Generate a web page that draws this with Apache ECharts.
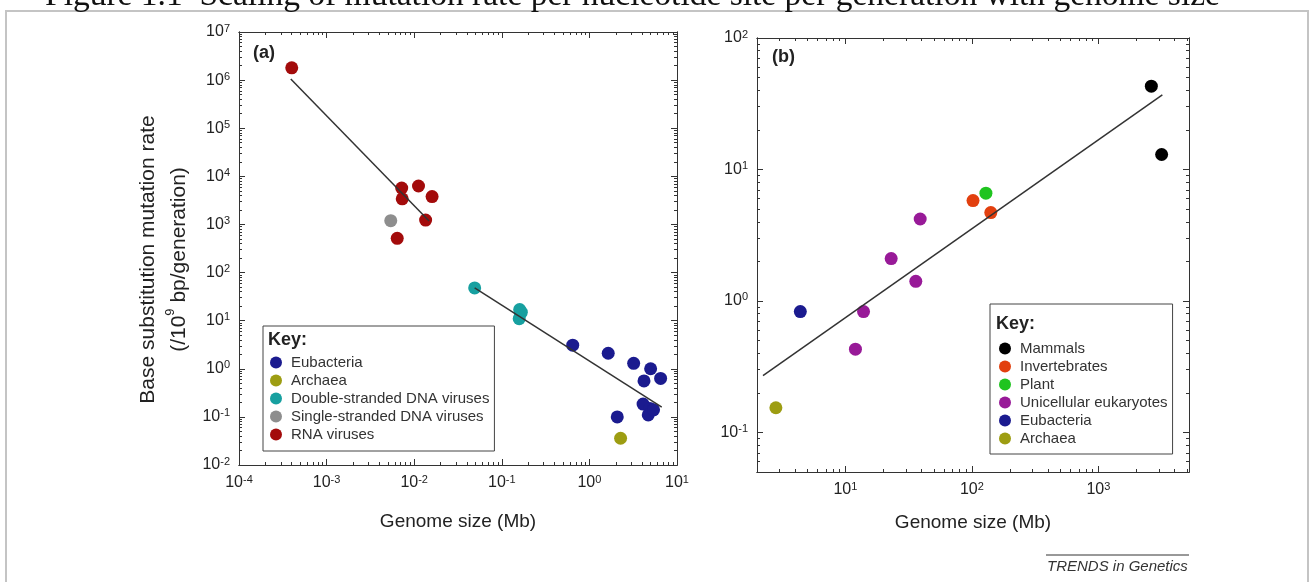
<!DOCTYPE html>
<html>
<head>
<meta charset="utf-8">
<script src="https://cdn.jsdelivr.net/npm/echarts@6/dist/echarts.min.js"></script>
<style>
html, body { margin: 0; padding: 0; background: #fff; }
#chart { width: 1316px; height: 582px; }
</style>
</head>
<body>
<div id="chart"></div>
<script>
// panel (a): genome size (Mb) -> base substitution rate
var eubacteriaA = [[0.645, 3.1], [1.64, 2.1], [3.2, 1.3], [5.0, 1.0], [4.2, 0.56], [6.5, 0.63],
                   [4.1, 0.185], [4.9, 0.15], [4.7, 0.11], [5.4, 0.14], [2.08, 0.10]];
var archaeaA = [[2.27, 0.036]];
var dsDnaViruses = [[0.049, 48], [0.16, 17], [0.163, 14], [0.158, 11], [0.167, 15]];
var ssDnaViruses = [[0.0054, 1200]];
var rnaViruses = [[4.0e-4, 1.8e6], [0.0072, 5700], [0.0073, 3400], [0.0112, 6300],
                  [0.016, 3800], [0.0135, 1230], [0.0064, 515]];
var fitA1 = [[3.9e-4, 1.05e6], [0.0148, 1175]];
var fitA2 = [[0.049, 48], [6.7, 0.16]];

// panel (b)
var mammals = [[2620, 43], [3160, 13]];
var invertebrates = [[102, 5.8], [141, 4.7]];
var plant = [[129, 6.6]];
var unicellular = [[39, 4.2], [23, 2.1], [36, 1.41], [13.9, 0.83], [12, 0.43]];
var eubacteriaB = [[4.4, 0.83]];
var archaeaB = [[2.82, 0.154]];
var fitB = [[2.23, 0.27], [3200, 37]];

// tick labels
var ticksAX = [1e-4, 1e-3, 1e-2, 1e-1, 1, 10];
var ticksAY = [1e-2, 1e-1, 1, 10, 100, 1e3, 1e4, 1e5, 1e6, 1e7];
var ticksBX = [10, 100, 1000];
var ticksBY = [0.1, 1, 10, 100];

var FONT = 'Liberation Sans, Arial, sans-serif';
var colors = {
    eub: '#1b1b8f', arc: '#9d9d12', ds: '#17a0a0', ss: '#8e8e8e', rna: '#a30b0b',
    mam: '#000000', inv: '#e2400f', pla: '#1fc41f', uni: '#981a98'
};

function minors(e0, e1) {
    var out = [];
    for (var e = e0; e < e1; e++)
        for (var k = 2; k < 10; k++) out.push(+(k * Math.pow(10, e)).toPrecision(3));
    return out;
}

function pow10(v) {
    var n = Math.round(Math.log10(v));
    return '{b|10}{s|' + n + '}';
}

var labelRich = {
    b: { fontSize: 16, fontFamily: FONT, color: '#222', lineHeight: 18 },
    s: { fontSize: 11, fontFamily: FONT, color: '#222', lineHeight: 11, verticalAlign: 'top' }
};

function makeAxis(grid, pos, min, max, ticks, len, label) {
    return {
        type: 'log', logBase: 10, gridIndex: grid, position: pos, min: min, max: max,
        axisLine: { show: true, onZero: false, lineStyle: { color: '#333', width: 1 } },
        axisTick: { show: true, inside: true, length: len, customValues: ticks,
                    lineStyle: { color: '#333', width: 1 } },
        axisLabel: label ? { show: true, customValues: ticks, formatter: pow10, rich: labelRich,
                             margin: 9 } : { show: false },
        splitLine: { show: false },
        minorTick: { show: false }
    };
}

var myChart = echarts.init(document.getElementById('chart'));

var xA = makeAxis(0, 'bottom', 1e-4, 10, ticksAX, 6, true);
xA.name = 'Genome size (Mb)';
xA.nameLocation = 'middle';
xA.nameGap = 47;
xA.nameTextStyle = { fontSize: 19, fontFamily: FONT, color: '#222' };

var xB = makeAxis(1, 'bottom', 2, 5200, ticksBX, 6, true);
xB.name = 'Genome size (Mb)';
xB.nameLocation = 'middle';
xB.nameGap = 41;
xB.nameTextStyle = { fontSize: 19, fontFamily: FONT, color: '#222' };

var yA = makeAxis(0, 'left', 1e-2, 1e7, ticksAY, 6, true);
yA.name = '{n|Base substitution mutation rate}\n{n|(/10}{p|9}{n| bp/generation)}';
yA.nameLocation = 'middle';
yA.nameGap = 44;
yA.nameTextStyle = {
    fontFamily: FONT, color: '#222', align: 'center', padding: [0, 22, 0, 0],
    rich: {
        n: { fontSize: 21, fontFamily: FONT, color: '#222', lineHeight: 31 },
        p: { fontSize: 13, fontFamily: FONT, color: '#222', lineHeight: 20, verticalAlign: 'top' }
    }
};

var yB = makeAxis(1, 'left', 0.05, 100, ticksBY, 6, true);

var legendBase = {
    orient: 'vertical', selectedMode: false, itemWidth: 20, itemHeight: 12, itemGap: 3,
    icon: 'circle', borderColor: '#444', borderWidth: 1, borderRadius: 0,
    backgroundColor: '#fff', textStyle: { fontSize: 15, fontFamily: FONT, color: '#333' }
};

option = {
    backgroundColor: '#fff',
    animation: false,
    grid: [
        { left: 239, top: 32, width: 438, height: 433 },
        { left: 757, top: 38, width: 432, height: 434 }
    ],
    xAxis: [
        xA,
        makeAxis(0, 'bottom', 1e-4, 10, minors(-4, 1), 3, false),
        makeAxis(0, 'top', 1e-4, 10, ticksAX, 6, false),
        makeAxis(0, 'top', 1e-4, 10, minors(-4, 1), 3, false),
        xB,
        makeAxis(1, 'bottom', 2, 5200, minors(0, 4), 3, false),
        makeAxis(1, 'top', 2, 5200, ticksBX, 6, false),
        makeAxis(1, 'top', 2, 5200, minors(0, 4), 3, false)
    ],
    yAxis: [
        yA,
        makeAxis(0, 'left', 1e-2, 1e7, minors(-2, 7), 3, false),
        makeAxis(0, 'right', 1e-2, 1e7, ticksAY, 6, false),
        makeAxis(0, 'right', 1e-2, 1e7, minors(-2, 7), 3, false),
        yB,
        makeAxis(1, 'left', 0.05, 100, minors(-2, 2), 3, false),
        makeAxis(1, 'right', 0.05, 100, ticksBY, 6, false),
        makeAxis(1, 'right', 0.05, 100, minors(-2, 2), 3, false)
    ],
    legend: [
        Object.assign({}, legendBase, {
            data: ['Eubacteria', 'Archaea', 'Double-stranded DNA viruses',
                   'Single-stranded DNA viruses', 'RNA viruses'],
            left: 263, top: 326, padding: [29, 5, 9, 7]
        }),
        Object.assign({}, legendBase, {
            data: ['Mammals', 'Invertebrates', 'Plant', 'Unicellular eukaryotes',
                   'Eubacteria', 'Archaea'],
            left: 990, top: 304, padding: [37, 5, 8, 9]
        })
    ],
    graphic: [
        { type: 'rect', shape: { x: 6, y: 11, width: 1302, height: 620 }, silent: true,
          style: { fill: 'none', stroke: '#c4c4c4', lineWidth: 2 } },
        { type: 'text', x: 45, y: 13, silent: true,
          style: { text: 'Figure 1.1  Scaling of mutation rate per nucleotide site per generation with genome size',
                   font: '33.5px "Liberation Serif", "Times New Roman", serif', fill: '#111',
                   verticalAlign: 'bottom' } },
        { type: 'text', x: 253, y: 53, silent: true,
          style: { text: '(a)', font: 'bold 18px ' + FONT, fill: '#222', verticalAlign: 'middle' } },
        { type: 'text', x: 772, y: 57, silent: true,
          style: { text: '(b)', font: 'bold 18px ' + FONT, fill: '#222', verticalAlign: 'middle' } },
        { type: 'text', x: 268, y: 340, z: 10, silent: true,
          style: { text: 'Key:', font: 'bold 18px ' + FONT, fill: '#222', verticalAlign: 'middle' } },
        { type: 'text', x: 996, y: 324, z: 10, silent: true,
          style: { text: 'Key:', font: 'bold 18px ' + FONT, fill: '#222', verticalAlign: 'middle' } },
        { type: 'line', shape: { x1: 1046, y1: 555, x2: 1189, y2: 555 }, silent: true,
          style: { stroke: '#333', lineWidth: 1 } },
        { type: 'text', x: 1047, y: 567, silent: true,
          style: { text: 'TRENDS in Genetics', font: 'italic 15px ' + FONT, fill: '#333',
                   verticalAlign: 'middle' } }
    ],
    series: [
        { name: 'Eubacteria', type: 'scatter', xAxisIndex: 0, yAxisIndex: 0, data: eubacteriaA,
          symbolSize: 13, itemStyle: { color: colors.eub, opacity: 1 } },
        { name: 'Archaea', type: 'scatter', xAxisIndex: 0, yAxisIndex: 0, data: archaeaA,
          symbolSize: 13, itemStyle: { color: colors.arc, opacity: 1 } },
        { name: 'Double-stranded DNA viruses', type: 'scatter', xAxisIndex: 0, yAxisIndex: 0,
          data: dsDnaViruses, symbolSize: 13, itemStyle: { color: colors.ds, opacity: 1 } },
        { name: 'Single-stranded DNA viruses', type: 'scatter', xAxisIndex: 0, yAxisIndex: 0,
          data: ssDnaViruses, symbolSize: 13, itemStyle: { color: colors.ss, opacity: 1 } },
        { name: 'RNA viruses', type: 'scatter', xAxisIndex: 0, yAxisIndex: 0, data: rnaViruses,
          symbolSize: 13, itemStyle: { color: colors.rna, opacity: 1 } },
        { name: 'fitA1', type: 'line', xAxisIndex: 0, yAxisIndex: 0, data: fitA1, symbol: 'none',
          z: 5, lineStyle: { color: '#333', width: 1.5 } },
        { name: 'fitA2', type: 'line', xAxisIndex: 0, yAxisIndex: 0, data: fitA2, symbol: 'none',
          z: 5, lineStyle: { color: '#333', width: 1.5 } },

        { name: 'Mammals', type: 'scatter', xAxisIndex: 4, yAxisIndex: 4, data: mammals,
          symbolSize: 13, itemStyle: { color: colors.mam, opacity: 1 } },
        { name: 'Invertebrates', type: 'scatter', xAxisIndex: 4, yAxisIndex: 4, data: invertebrates,
          symbolSize: 13, itemStyle: { color: colors.inv, opacity: 1 } },
        { name: 'Plant', type: 'scatter', xAxisIndex: 4, yAxisIndex: 4, data: plant,
          symbolSize: 13, itemStyle: { color: colors.pla, opacity: 1 } },
        { name: 'Unicellular eukaryotes', type: 'scatter', xAxisIndex: 4, yAxisIndex: 4,
          data: unicellular, symbolSize: 13, itemStyle: { color: colors.uni, opacity: 1 } },
        { name: 'Eubacteria', type: 'scatter', xAxisIndex: 4, yAxisIndex: 4, data: eubacteriaB,
          symbolSize: 13, itemStyle: { color: colors.eub, opacity: 1 } },
        { name: 'Archaea', type: 'scatter', xAxisIndex: 4, yAxisIndex: 4, data: archaeaB,
          symbolSize: 13, itemStyle: { color: colors.arc, opacity: 1 } },
        { name: 'fitB', type: 'line', xAxisIndex: 4, yAxisIndex: 4, data: fitB, symbol: 'none',
          z: 5, lineStyle: { color: '#333', width: 1.5 } }
    ]
};

if (option && typeof option === "object") {
    myChart.setOption(option, true);
}
window.onresize = function () {
    myChart.resize();
};
</script>
</body>
</html>
